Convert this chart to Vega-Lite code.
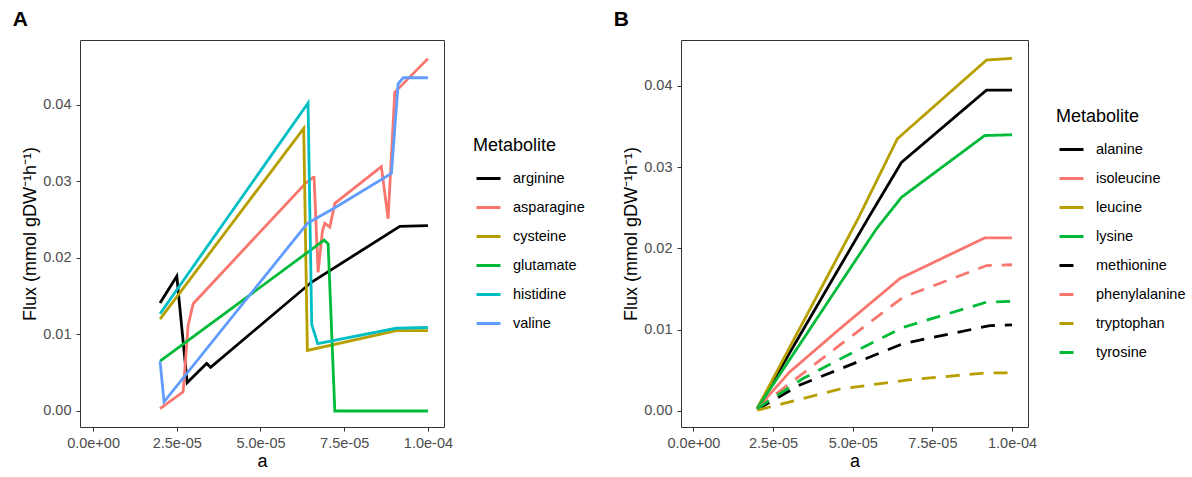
{
  "$schema": "https://vega.github.io/schema/vega-lite/v6.json",
  "padding": {"left": 12, "top": 8, "right": 0, "bottom": 0},
  "config": {
    "font": "Liberation Sans",
    "view": {"stroke": "#333333", "strokeWidth": 1},
    "axis": {"grid": false, "domain": false, "tickColor": "#333333", "tickSize": 4, "labelColor": "#4d4d4d", "labelFontSize": 14.5, "titleFontSize": 18, "titleFontWeight": "normal", "titleColor": "#000000", "labelPadding": 5, "titlePadding": 3},
    "legend": {"symbolType": "stroke", "symbolSize": 576, "symbolStrokeWidth": 3, "labelFontSize": 14.5, "titleFontSize": 18, "titleFontWeight": "normal", "titlePadding": 10, "rowPadding": 9, "labelOffset": 11, "symbolOffset": 2, "labelColor": "#000000", "titleColor": "#000000", "padding": 0},
    "title": {"fontSize": 21, "fontWeight": "bold", "anchor": "start", "frame": "bounds", "color": "#000000"}
  },
  "datasets": {
    "A": [
      {"m": "arginine", "a": 2.0e-5, "f": 0.0141}, {"m": "arginine", "a": 2.5e-5, "f": 0.0176}, {"m": "arginine", "a": 2.81e-5, "f": 0.0037}, {"m": "arginine", "a": 3.39e-5, "f": 0.0062}, {"m": "arginine", "a": 3.51e-5, "f": 0.0057}, {"m": "arginine", "a": 6.52e-5, "f": 0.0168}, {"m": "arginine", "a": 9.16e-5, "f": 0.0241}, {"m": "arginine", "a": 1.0e-4, "f": 0.0242},
      {"m": "asparagine", "a": 2.0e-5, "f": 0.0003}, {"m": "asparagine", "a": 2.69e-5, "f": 0.0025}, {"m": "asparagine", "a": 2.84e-5, "f": 0.0112}, {"m": "asparagine", "a": 2.99e-5, "f": 0.0140}, {"m": "asparagine", "a": 6.34e-5, "f": 0.0297}, {"m": "asparagine", "a": 6.57e-5, "f": 0.0305}, {"m": "asparagine", "a": 6.6e-5, "f": 0.0305}, {"m": "asparagine", "a": 6.72e-5, "f": 0.0181}, {"m": "asparagine", "a": 6.85e-5, "f": 0.0235}, {"m": "asparagine", "a": 6.92e-5, "f": 0.0245}, {"m": "asparagine", "a": 7.07e-5, "f": 0.0240}, {"m": "asparagine", "a": 7.22e-5, "f": 0.0271}, {"m": "asparagine", "a": 8.61e-5, "f": 0.0319}, {"m": "asparagine", "a": 8.81e-5, "f": 0.0251}, {"m": "asparagine", "a": 9.01e-5, "f": 0.0416}, {"m": "asparagine", "a": 1.0e-4, "f": 0.0460},
      {"m": "cysteine", "a": 2.0e-5, "f": 0.0120}, {"m": "cysteine", "a": 6.29e-5, "f": 0.0369}, {"m": "cysteine", "a": 6.40e-5, "f": 0.0079}, {"m": "cysteine", "a": 9.06e-5, "f": 0.0105}, {"m": "cysteine", "a": 1.0e-4, "f": 0.0105},
      {"m": "glutamate", "a": 2.0e-5, "f": 0.0065}, {"m": "glutamate", "a": 6.90e-5, "f": 0.0223}, {"m": "glutamate", "a": 7.02e-5, "f": 0.0218}, {"m": "glutamate", "a": 7.22e-5, "f": 0.0}, {"m": "glutamate", "a": 1.0e-4, "f": 0.0},
      {"m": "histidine", "a": 2.0e-5, "f": 0.0127}, {"m": "histidine", "a": 6.42e-5, "f": 0.0402}, {"m": "histidine", "a": 6.53e-5, "f": 0.0113}, {"m": "histidine", "a": 6.71e-5, "f": 0.0088}, {"m": "histidine", "a": 9.05e-5, "f": 0.0108}, {"m": "histidine", "a": 1.0e-4, "f": 0.0109},
      {"m": "valine", "a": 2.0e-5, "f": 0.0065}, {"m": "valine", "a": 2.12e-5, "f": 0.0012}, {"m": "valine", "a": 6.40e-5, "f": 0.0245}, {"m": "valine", "a": 7.17e-5, "f": 0.0264}, {"m": "valine", "a": 8.91e-5, "f": 0.0310}, {"m": "valine", "a": 9.11e-5, "f": 0.0427}, {"m": "valine", "a": 9.26e-5, "f": 0.0435}, {"m": "valine", "a": 1.0e-4, "f": 0.0435}
    ],
    "B": [
      {"m": "alanine", "a": 2.0e-5, "f": 0.0003}, {"m": "alanine", "a": 5.48e-5, "f": 0.0237}, {"m": "alanine", "a": 6.53e-5, "f": 0.0306}, {"m": "alanine", "a": 9.2e-5, "f": 0.0395}, {"m": "alanine", "a": 1.0e-4, "f": 0.0395},
      {"m": "isoleucine", "a": 2.0e-5, "f": 0.0003}, {"m": "isoleucine", "a": 3.02e-5, "f": 0.0048}, {"m": "isoleucine", "a": 4.59e-5, "f": 0.0101}, {"m": "isoleucine", "a": 6.48e-5, "f": 0.0163}, {"m": "isoleucine", "a": 9.14e-5, "f": 0.0213}, {"m": "isoleucine", "a": 1.0e-4, "f": 0.0213},
      {"m": "leucine", "a": 2.0e-5, "f": 0.0003}, {"m": "leucine", "a": 5.17e-5, "f": 0.0237}, {"m": "leucine", "a": 6.4e-5, "f": 0.0335}, {"m": "leucine", "a": 9.2e-5, "f": 0.0432}, {"m": "leucine", "a": 1.0e-4, "f": 0.0434},
      {"m": "lysine", "a": 2.0e-5, "f": 0.0003}, {"m": "lysine", "a": 5.74e-5, "f": 0.0224}, {"m": "lysine", "a": 6.53e-5, "f": 0.0263}, {"m": "lysine", "a": 9.14e-5, "f": 0.0339}, {"m": "lysine", "a": 1.0e-4, "f": 0.0340},
      {"m": "methionine", "a": 2.0e-5, "f": 0.0002}, {"m": "methionine", "a": 3.34e-5, "f": 0.0032}, {"m": "methionine", "a": 5.0e-5, "f": 0.0058}, {"m": "methionine", "a": 6.58e-5, "f": 0.0083}, {"m": "methionine", "a": 9.3e-5, "f": 0.0105}, {"m": "methionine", "a": 1.0e-4, "f": 0.0106},
      {"m": "phenylalanine", "a": 2.0e-5, "f": 0.0003}, {"m": "phenylalanine", "a": 4.59e-5, "f": 0.0081}, {"m": "phenylalanine", "a": 6.58e-5, "f": 0.0140}, {"m": "phenylalanine", "a": 9.2e-5, "f": 0.0179}, {"m": "phenylalanine", "a": 1.0e-4, "f": 0.0180},
      {"m": "tryptophan", "a": 2.0e-5, "f": 0.0001}, {"m": "tryptophan", "a": 2.81e-5, "f": 0.0009}, {"m": "tryptophan", "a": 4.59e-5, "f": 0.0027}, {"m": "tryptophan", "a": 6.69e-5, "f": 0.0038}, {"m": "tryptophan", "a": 9.2e-5, "f": 0.0047}, {"m": "tryptophan", "a": 1.0e-4, "f": 0.0047},
      {"m": "tyrosine", "a": 2.0e-5, "f": 0.0003}, {"m": "tyrosine", "a": 3.44e-5, "f": 0.0040}, {"m": "tyrosine", "a": 4.8e-5, "f": 0.0068}, {"m": "tyrosine", "a": 6.58e-5, "f": 0.0103}, {"m": "tyrosine", "a": 9.2e-5, "f": 0.0134}, {"m": "tyrosine", "a": 1.0e-4, "f": 0.0135}
    ]
  },
  "spacing": 27,
  "resolve": {"scale": {"color": "independent", "strokeDash": "independent", "x": "independent", "y": "independent"}, "legend": {"color": "independent", "strokeDash": "independent"}},
  "hconcat": [
    {
      "width": 364, "height": 387,
      "title": {"text": "A", "dx": -9, "offset": 10},
      "data": {"name": "A"},
      "mark": {"type": "line", "strokeWidth": 2.8},
      "encoding": {
        "x": {"field": "a", "type": "quantitative", "scale": {"domain": [-3.9e-6, 1.048e-4], "nice": false, "zero": false}, "axis": {"values": [0, 2.5e-5, 5e-5, 7.5e-5, 1e-4], "labelExpr": "replace(replace(format(datum.value, '.1e'), 'e-', 'e-0'), 'e+', 'e+0')", "title": "a"}},
        "y": {"field": "f", "type": "quantitative", "scale": {"domain": [-0.00209, 0.04843], "nice": false, "zero": false}, "axis": {"values": [0, 0.01, 0.02, 0.03, 0.04], "format": ".2f", "title": "Flux (mmol gDW⁻¹h⁻¹)"}},
        "color": {"field": "m", "type": "nominal", "scale": {"domain": ["arginine", "asparagine", "cysteine", "glutamate", "histidine", "valine"], "range": ["#000000", "#F8766D", "#B79F00", "#00BA38", "#00BFC4", "#619CFF"]}, "legend": {"title": "Metabolite", "orient": "none", "legendX": 393, "legendY": 97}}
      }
    },
    {
      "width": 347, "height": 387,
      "title": {"text": "B", "dx": -9, "offset": 10},
      "data": {"name": "B"},
      "mark": {"type": "line", "strokeWidth": 2.8},
      "encoding": {
        "x": {"field": "a", "type": "quantitative", "scale": {"domain": [-3.9e-6, 1.05e-4], "nice": false, "zero": false}, "axis": {"values": [0, 2.5e-5, 5e-5, 7.5e-5, 1e-4], "labelExpr": "replace(replace(format(datum.value, '.1e'), 'e-', 'e-0'), 'e+', 'e+0')", "title": "a"}},
        "y": {"field": "f", "type": "quantitative", "scale": {"domain": [-0.00197, 0.04566], "nice": false, "zero": false}, "axis": {"values": [0, 0.01, 0.02, 0.03, 0.04], "format": ".2f", "title": "Flux (mmol gDW⁻¹h⁻¹)"}},
        "color": {"field": "m", "type": "nominal", "scale": {"domain": ["alanine", "isoleucine", "leucine", "lysine", "methionine", "phenylalanine", "tryptophan", "tyrosine"], "range": ["#000000", "#F8766D", "#B79F00", "#00BA38", "#000000", "#F8766D", "#B79F00", "#00BA38"]}, "legend": {"title": "Metabolite", "orient": "none", "legendX": 375, "legendY": 68}},
        "strokeDash": {"field": "m", "type": "nominal", "scale": {"domain": ["alanine", "isoleucine", "leucine", "lysine", "methionine", "phenylalanine", "tryptophan", "tyrosine"], "range": [[1, 0], [1, 0], [1, 0], [1, 0], [14, 10], [14, 10], [14, 10], [14, 10]]}, "legend": {"title": "Metabolite", "orient": "none", "legendX": 375, "legendY": 68}}
      }
    }
  ]
}
